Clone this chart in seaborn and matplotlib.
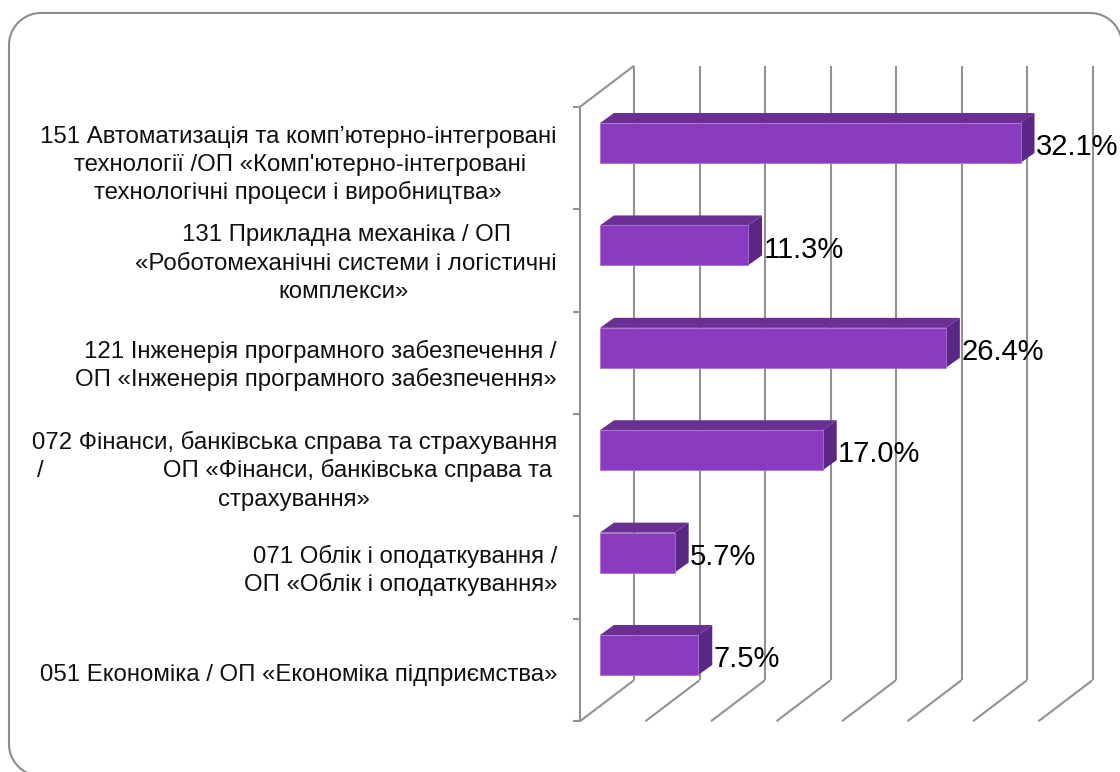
import matplotlib
matplotlib.use("Agg")
import matplotlib.pyplot as plt
from matplotlib.lines import Line2D
from matplotlib.patches import Polygon
from matplotlib.transforms import Affine2D
import numpy as np
import pandas as pd
import seaborn as sns

categories = [
    "151 Автоматизація та комп’ютерно-інтегровані технології",
    "131 Прикладна механіка",
    "121 Інженерія програмного забезпечення",
    "072 Фінанси, банківська справа та страхування",
    "071 Облік і оподаткування",
    "051 Економіка",
]
shares = [32.1, 11.3, 26.4, 17.0, 5.7, 7.5]
grid_values = [0, 5, 10, 15, 20, 25, 30, 35]
label_lines = [
    ["151 Автоматизація та комп’ютерно-інтегровані",
     "технології /ОП «Комп'ютерно-інтегровані",
     "технологічні процеси і виробництва»"],
    ["131 Прикладна механіка / ОП",
     "«Роботомеханічні системи і логістичні",
     "комплекси»"],
    ["121 Інженерія програмного забезпечення /",
     "ОП «Інженерія програмного забезпечення»"],
    ["072 Фінанси, банківська справа та страхування",
     "/                  ОП «Фінанси, банківська справа та",
     "страхування»"],
    ["071 Облік і оподаткування /",
     "ОП «Облік і оподаткування»"],
    ["051 Економіка / ОП «Економіка підприємства»"],
]

W, H = 1120, 772
PX_X, PX_Y = 13.1, 102.4   # pixels per data unit
sns.set_theme(style="white")
plt.rcParams["font.family"] = ["Liberation Sans", "DejaVu Sans"]

fig = plt.figure(figsize=(W / 100, H / 100), dpi=100, facecolor="white")
left, top = 600, 143 - 0.5 * PX_Y
ax = fig.add_axes([left / W, 1 - (top + 6 * PX_Y) / H, 35 * PX_X / W, 6 * PX_Y / H])
px = Affine2D().scale(1, -1).translate(0, H)

df = pd.DataFrame({"category": categories, "share": shares})
sns.barplot(data=df, y="category", x="share", orient="h", color="#8A3BC0", saturation=1,
            width=0.39, ax=ax, edgecolor="#A673D0", linewidth=0.6, zorder=5)
ax.set_xlim(0, 35)
ax.set_ylim(5.5, -0.5)
ax.axis("off")

# 3D wall: offsets of front and back planes from the bar plane, data units
fx, fy = -20 / PX_X, 15 / PX_Y
bx, by = 34 / PX_X, -26 / PX_Y
gc = "#929292"
lw = 1.5
y_top, y_bot = -0.5, 5.5
kw = dict(color=gc, lw=lw, clip_on=False, zorder=1, solid_capstyle="butt")
for v in grid_values:
    ax.plot([v + bx, v + bx], [y_top + by, y_bot + by], **kw)
    ax.plot([v + fx, v + bx], [y_bot + fy, y_bot + by], **kw)
ax.plot([fx, bx], [y_top + fy, y_top + by], **kw)
ax.plot([fx, fx], [y_top + fy, y_bot + fy], **kw)
for i in range(7):
    ax.plot([fx - 7 / PX_X, fx], [i - 0.5 + fy] * 2, **kw)

# bar depth faces
dx, dy = 14 / PX_X, -10 / PX_Y
container = ax.containers[0]
for p in container.patches:
    x1, y0 = p.get_x() + p.get_width(), p.get_y()
    y1 = y0 + p.get_height()
    y_u, y_l = min(y0, y1), max(y0, y1)
    ax.add_patch(Polygon([(0, y_u), (dx, y_u + dy), (x1 + dx, y_u + dy), (x1, y_u)],
                         closed=True, fc="#6B2F94", ec="none", clip_on=False, zorder=4))
    ax.add_patch(Polygon([(x1, y_u), (x1 + dx, y_u + dy), (x1 + dx, y_l + dy), (x1, y_l)],
                         closed=True, fc="#5A2785", ec="none", clip_on=False, zorder=4))

value_labels = ax.bar_label(container, fmt="%.1f%%", padding=11, fontsize=21, color="black",
                            zorder=6, clip_on=False)
for t in value_labels:
    t.set_position((11, -3))

# category labels, line by line
line_y = [[137, 165, 192], [235, 264, 292], [351, 379], [442, 470, 500], [556, 584], [675]]
line_right = [[557, 526, 502], [511, 557, 409], [557, 557], [557, 552, 370], [557, 557], [557]]
for lines, ys, xs in zip(label_lines, line_y, line_right):
    for s, y, x in zip(lines, ys, xs):
        fig.text(x, y, s, transform=px, ha="right", va="center", fontsize=17.3, color="#111111")

# rounded frame running off the right and bottom edges
r = 32
a = np.linspace(0, np.pi / 2, 30)
frame_x = np.concatenate([9 + r * (1 - np.cos(a)), [1122 - r], 1122 - r + r * np.sin(a)])
frame_y = np.concatenate([13 + r * (1 - np.sin(a)), [13], 13 + r * (1 - np.cos(a))])
fig.add_artist(Line2D(frame_x, frame_y, transform=px, color="#8C8C8C", lw=1.5))
fig.add_artist(Line2D(np.concatenate([[9], 9 + r * (1 - np.cos(a))]),
                      np.concatenate([[45], 776 - r + r * np.sin(a)]),
                      transform=px, color="#8C8C8C", lw=1.5))

fig.savefig("out.png", dpi=100)
